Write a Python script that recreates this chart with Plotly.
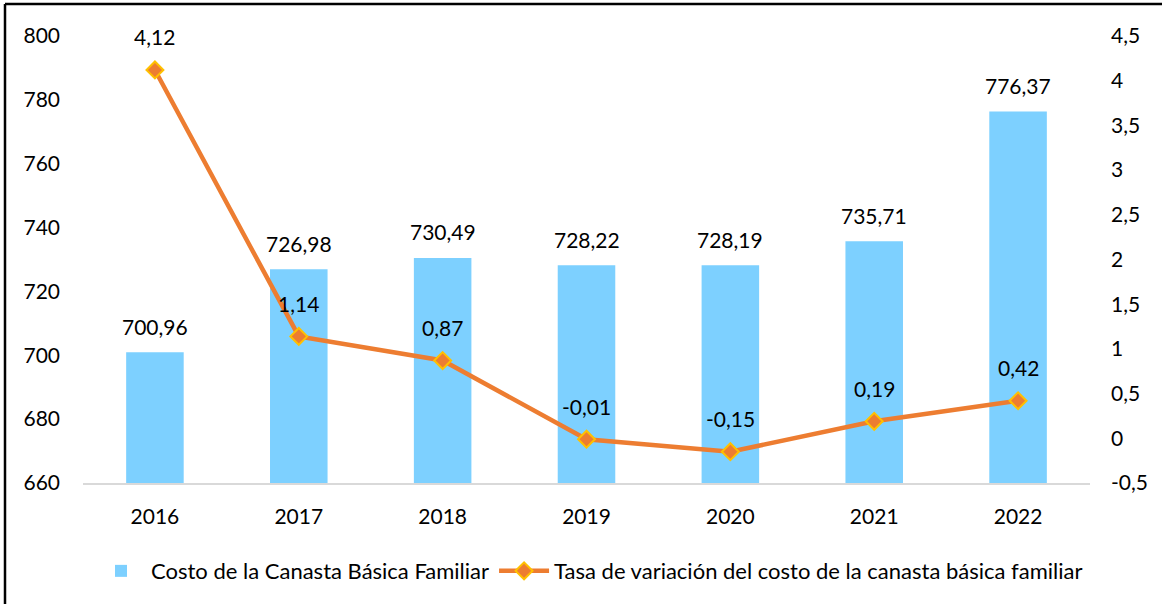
import plotly.graph_objects as go

years = ["2016", "2017", "2018", "2019", "2020", "2021", "2022"]
costo = [700.96, 726.98, 730.49, 728.22, 728.19, 735.71, 776.37]
tasa = [4.12, 1.14, 0.87, -0.01, -0.15, 0.19, 0.42]

left_ticks = [660, 680, 700, 720, 740, 760, 780, 800]
right_ticks = [-0.5, 0, 0.5, 1, 1.5, 2, 2.5, 3, 3.5, 4, 4.5]


def fmt(v, d=2):
    return f"{v:.{d}f}".replace(".", ",")


def fmt_tick(v):
    return f"{v:g}".replace(".", ",")


FONT = "Lato"
FS = 21
BAR_COLOR = "#7DD0FF"
LINE_COLOR = "#ED7D31"
MARKER_LINE = "#FFC000"

fig = go.Figure()
fig.add_trace(go.Bar(
    x=years, y=costo, name="Costo de la Canasta Básica Familiar",
    marker=dict(color=BAR_COLOR, line=dict(width=0)),
    width=0.4, yaxis="y",
))
fig.add_trace(go.Scatter(
    x=years, y=tasa, name="Tasa de variación del costo de la canasta básica familiar",
    mode="lines+markers", yaxis="y2",
    line=dict(color=LINE_COLOR, width=4.5),
    marker=dict(symbol="diamond", size=13, color=LINE_COLOR,
                line=dict(color=MARKER_LINE, width=2)),
))

annotations = []
for i, v in enumerate(costo):
    annotations.append(dict(x=i, y=v, xref="x", yref="y", text=fmt(v),
                            showarrow=False, yshift=26, yanchor="middle",
                            font=dict(family=FONT, size=FS, color="#000000")))
for i, v in enumerate(tasa):
    annotations.append(dict(x=i, y=v, xref="x", yref="y2", text=fmt(v),
                            showarrow=False, yshift=33, yanchor="middle",
                            font=dict(family=FONT, size=FS, color="#000000")))

L, R, T, B = 83, 72, 36, 121
W, H = 1162, 604
pw, ph = W - L - R, H - T - B
x_left = (5 - L) / pw
y_top = 1 + (T - 4) / ph
y_bottom = -(B) / ph

fig.update_layout(
    width=W, height=H,
    margin=dict(l=L, r=R, t=T, b=B, autoexpand=False),
    paper_bgcolor="white", plot_bgcolor="white",
    font=dict(family=FONT, size=FS, color="#000000"),
    showlegend=True,
    legend=dict(orientation="h", x=0.503, xanchor="center", y=-0.197, yanchor="middle",
                font=dict(family=FONT, size=22), itemwidth=50, traceorder="normal"),
    xaxis=dict(type="category", range=[-0.5, len(years) - 0.5], showgrid=False,
               showline=True, linecolor="#D9D9D9",
               linewidth=2, ticks="", ticklabelstandoff=14, tickfont=dict(size=FS)),
    yaxis=dict(range=[660, 800], tickvals=left_ticks,
               ticktext=[fmt_tick(v) for v in left_ticks],
               showgrid=False, zeroline=False, showline=False, ticks="",
               ticklabelstandoff=22, tickfont=dict(size=FS)),
    yaxis2=dict(range=[-0.5, 4.5], tickvals=right_ticks,
                ticktext=[fmt_tick(v) for v in right_ticks],
                overlaying="y", side="right", showgrid=False, zeroline=False,
                showline=False, ticks="", ticklabelstandoff=20,
                tickfont=dict(size=FS)),
    annotations=annotations,
    shapes=[
        dict(type="line", xref="paper", yref="paper", x0=x_left, x1=x_left,
             y0=y_bottom - 0.1, y1=y_top, line=dict(color="#000000", width=2.5)),
        dict(type="line", xref="paper", yref="paper", x0=x_left, x1=(W + 10 - L) / pw,
             y0=y_top, y1=y_top, line=dict(color="#000000", width=2.5)),
    ],
)

fig.write_html("out.html", config={"displayModeBar": False},
               post_script="document.body.style.margin='0';document.body.style.overflow='hidden';")
